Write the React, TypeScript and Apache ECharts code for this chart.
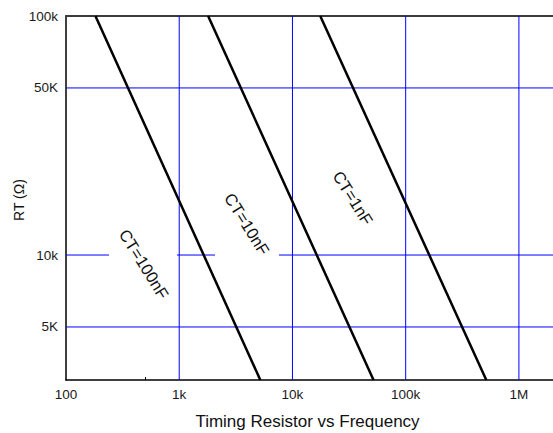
import React, { useEffect, useRef } from 'react';
import * as echarts from 'echarts';

const xTickValues = [100, 1000, 10000, 100000, 1000000];
const xTickLabels = ['100', '1k', '10k', '100k', '1M'];
const xMinorTicks = [500];
const yTickValues = [5000, 10000, 50000, 100000];
const yTickLabels = ['5K', '10k', '50K', '100k'];
const xGridValues = [1000, 10000, 100000, 1000000];
const yGridValues = [5000, 10000, 50000];
const seriesNames = ['CT=100nF', 'CT=10nF', 'CT=1nF'];
const ct100nF = [[182, 100000], [5200, 3000]];
const ct10nF = [[1800, 100000], [52000, 3000]];
const ct1nF = [[17600, 100000], [515000, 3000]];
const xMin = 100;
const xMax = 2000000;
const yMin = 3000;
const yMax = 100000;
const title = 'Timing Resistor vs Frequency';
const yName = 'RT (Ω)';

const FONT = 'Liberation Sans, Arial, sans-serif';

export default function App() {
  const ref = useRef<HTMLDivElement>(null);
  useEffect(() => {
    if (!ref.current) return;
    const chart = echarts.init(ref.current, undefined, { renderer: 'svg' });
    const xLabelMap: Record<number, string> = {};
    xTickValues.forEach((v, i) => (xLabelMap[v] = xTickLabels[i]));
    const yLabelMap: Record<number, string> = {};
    yTickValues.forEach((v, i) => (yLabelMap[v] = yTickLabels[i]));
    const lineData = [ct100nF, ct10nF, ct1nF];
    const rot = (-58 * Math.PI) / 180;
    const labelBoxes = [
      { cx: 144, cy: 264, x: 109, y: 219, w: 68, h: 90 },
      { cx: 247, cy: 224, x: 215, y: 183, w: 64, h: 82 },
      { cx: 353, cy: 198, x: 326, y: 163, w: 55, h: 71 },
    ];
    const gridSeries = [
      ...xGridValues.map((v) => [[v, yMin], [v, yMax]]),
      ...yGridValues.map((v) => [[xMin, v], [xMax, v]]),
    ].map((d) => ({
      type: 'line',
      data: d,
      z: 1,
      symbol: 'none',
      silent: true,
      color: '#0000ff',
      lineStyle: { color: '#0000ff', width: 1 },
    }));
    chart.setOption({
      animation: false,
      grid: { left: 66, top: 16, width: 490, height: 364 },
      xAxis: [
        {
          type: 'log',
          logBase: 10,
          min: xMin,
          max: xMax,
          axisLine: { show: true, lineStyle: { color: '#000', width: 1.5 } },
          axisTick: { show: true, inside: true, length: 3, customValues: xMinorTicks, lineStyle: { color: '#000' } },
          axisLabel: {
            show: true,
            customValues: xTickValues,
            formatter: (v: number) => xLabelMap[Math.round(v)] ?? '',
            color: '#1a1a1a',
            fontSize: 13.5,
            fontFamily: FONT,
            margin: 7,
          },
          splitLine: { show: false },
          minorTick: { show: false },
        },
        {
          type: 'log',
          logBase: 10,
          min: xMin,
          max: xMax,
          position: 'top',
          axisLine: { show: true, lineStyle: { color: '#3a3a3a', width: 2 } },
          axisTick: { show: false },
          axisLabel: { show: false },
          splitLine: { show: false },
        },
      ],
      yAxis: {
        type: 'log',
        logBase: 10,
        min: yMin,
        max: yMax,
        axisLine: { show: true, lineStyle: { color: '#000', width: 1.5 } },
        axisTick: { show: false },
        axisLabel: {
          show: true,
          customValues: yTickValues,
          formatter: (v: number) => yLabelMap[Math.round(v)] ?? '',
          color: '#1a1a1a',
          fontSize: 13.5,
          fontFamily: FONT,
          margin: 8,
        },
        splitLine: { show: false },
      },
      series: [
        ...gridSeries,
        ...lineData.map((d, i) => ({
          type: 'line',
          name: seriesNames[i],
          data: d,
          z: 5,
          symbol: 'none',
          color: '#000',
          lineStyle: { color: '#000', width: 2.5 },
          silent: true,
        })),
      ],
      graphic: [
        ...labelBoxes.map((b) => ({
          type: 'rect',
          z: 10,
          shape: { x: b.x, y: b.y, width: b.w, height: b.h },
          style: { fill: '#fff' },
          silent: true,
        })),
        ...labelBoxes.map((b, i) => ({
          type: 'text',
          z: 11,
          x: b.cx,
          y: b.cy,
          rotation: rot,
          style: {
            text: seriesNames[i],
            fill: '#111',
            font: `16.5px ${FONT}`,
            align: 'center',
            verticalAlign: 'middle',
          },
          silent: true,
        })),
        {
          type: 'text',
          z: 11,
          x: 307.5,
          y: 421,
          style: {
            text: title,
            fill: '#111',
            font: `17px ${FONT}`,
            align: 'center',
            verticalAlign: 'middle',
          },
        },
        {
          type: 'text',
          z: 11,
          x: 18.5,
          y: 200,
          rotation: Math.PI / 2,
          style: {
            text: yName,
            fill: '#111',
            font: `14px ${FONT}`,
            align: 'center',
            verticalAlign: 'middle',
          },
        },
      ],
    });
    return () => chart.dispose();
  }, []);
  return (
    <div
      ref={ref}
      style={{ position: 'absolute', left: 0, top: 0, width: 553, height: 433, background: '#fff' }}
    />
  );
}
